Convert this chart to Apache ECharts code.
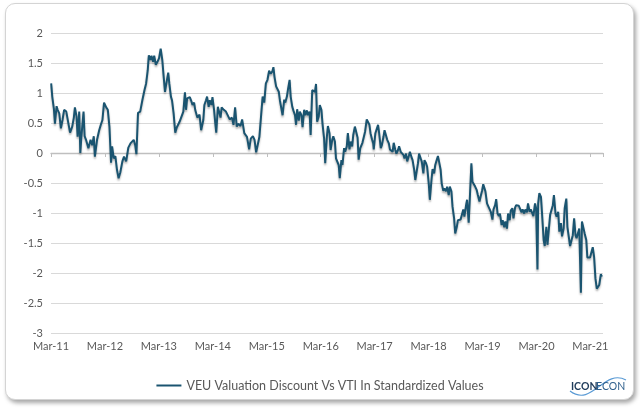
<!DOCTYPE html>
<html>
<head>
<meta charset="utf-8">
<script src="https://cdn.jsdelivr.net/npm/echarts@6/dist/echarts.min.js"></script>
<style>
html,body{margin:0;padding:0;background:#fff;}
#card{position:absolute;left:5px;top:3px;width:627px;height:395px;border:1px solid #d4d4d4;border-radius:10px;box-shadow:2px 3px 4px rgba(0,0,0,0.35);background:#fff;}
#chart{position:absolute;left:0;top:0;width:640px;height:411px;}
</style>
</head>
<body>
<div id="card"></div>
<div id="chart"></div>
<script>
// Decimal years (Mar-11 = 2011.167) and standardized values
const years = [
2011.17,2011.19,2011.22,2011.24,2011.27,2011.29,2011.32,2011.35,2011.38,2011.41,2011.45,2011.49,2011.52,2011.56,2011.59,2011.61,2011.64,2011.66,2011.69,2011.71,2011.73,2011.77,2011.79,2011.82,2011.86,2011.90,2011.93,2011.96,2011.98,
2012.02,2012.06,2012.09,2012.12,2012.15,2012.19,2012.22,2012.25,2012.28,2012.30,2012.33,2012.36,2012.39,2012.42,2012.45,2012.49,2012.52,2012.56,2012.60,2012.64,2012.67,2012.70,2012.73,2012.75,2012.78,2012.82,2012.86,2012.90,2012.93,2012.96,2012.98,
2013.01,2013.03,2013.06,2013.08,2013.11,2013.14,2013.17,2013.20,2013.23,2013.25,2013.28,2013.30,2013.34,2013.36,2013.39,2013.41,2013.44,2013.47,2013.50,2013.52,2013.55,2013.58,2013.62,2013.65,2013.67,2013.69,2013.72,2013.74,2013.77,2013.79,2013.82,2013.84,2013.88,2013.92,2013.95,2013.99,
2014.01,2014.04,2014.06,2014.09,2014.11,2014.14,2014.16,2014.19,2014.21,2014.23,2014.26,2014.28,2014.31,2014.33,2014.37,2014.41,2014.44,2014.48,2014.52,2014.55,2014.58,2014.61,2014.64,2014.68,2014.71,2014.75,2014.77,2014.80,2014.84,2014.87,2014.91,2014.94,2014.97,2014.99,
2015.03,2015.07,2015.09,2015.12,2015.15,2015.18,2015.21,2015.24,2015.27,2015.29,2015.31,2015.34,2015.36,2015.39,2015.41,2015.44,2015.46,2015.49,2015.51,2015.54,2015.56,2015.59,2015.61,2015.64,2015.66,2015.69,2015.71,2015.73,2015.76,2015.78,2015.81,2015.83,2015.86,2015.88,2015.91,2015.93,2015.96,2015.98,
2016.01,2016.03,2016.06,2016.08,2016.10,2016.13,2016.15,2016.18,2016.20,2016.23,2016.25,2016.28,2016.30,2016.33,2016.35,2016.38,2016.40,2016.43,2016.45,2016.48,2016.50,2016.52,2016.55,2016.57,2016.60,2016.62,2016.65,2016.67,2016.70,2016.72,2016.75,2016.77,2016.80,2016.82,2016.85,2016.87,2016.90,2016.92,2016.94,2016.97,2016.99,
2017.02,2017.04,2017.07,2017.09,2017.12,2017.14,2017.15,2017.18,2017.20,2017.23,2017.25,2017.28,2017.30,2017.33,2017.35,2017.38,2017.40,2017.43,2017.45,2017.48,2017.50,2017.52,2017.55,2017.57,2017.60,2017.62,2017.65,2017.67,2017.70,2017.72,2017.75,2017.77,2017.80,2017.82,2017.85,2017.87,2017.90,2017.92,2017.94,2017.97,2017.99,
2018.02,2018.04,2018.07,2018.09,2018.12,2018.14,2018.17,2018.19,2018.22,2018.24,2018.27,2018.29,2018.31,2018.34,2018.36,2018.39,2018.41,2018.44,2018.46,2018.49,2018.51,2018.54,2018.56,2018.59,2018.61,2018.64,2018.66,2018.69,2018.71,2018.73,2018.76,2018.78,2018.81,2018.83,2018.86,2018.88,2018.91,2018.93,2018.96,2018.98,
2019.01,2019.03,2019.06,2019.08,2019.11,2019.13,2019.16,2019.18,2019.20,2019.22,2019.25,2019.27,2019.30,2019.32,2019.35,2019.37,2019.40,2019.42,2019.445,2019.47,2019.49,2019.52,2019.54,2019.57,2019.59,2019.62,2019.64,2019.67,2019.69,2019.72,2019.74,2019.77,2019.79,2019.815,2019.84,2019.865,2019.89,2019.91,2019.94,2019.96,2019.99,
2020.01,2020.04,2020.06,2020.09,2020.11,2020.14,2020.16,2020.185,2020.198,2020.22,2020.25,2020.27,2020.30,2020.32,2020.35,2020.37,2020.40,2020.42,2020.445,2020.47,2020.49,2020.52,2020.54,2020.57,2020.59,2020.62,2020.64,2020.67,2020.69,2020.72,2020.74,2020.77,2020.79,2020.815,2020.84,2020.865,2020.89,2020.91,2020.94,2020.96,2020.99,
2021.01,2021.04,2021.06,2021.09,2021.11,2021.14,2021.16,2021.185,2021.21,2021.235,2021.26,2021.285,2021.31,2021.33,2021.36,2021.38
];
const values = [
1.16,0.94,0.74,0.49,0.78,0.72,0.66,0.41,0.55,0.72,0.69,0.49,0.34,0.44,0.59,0.76,0.61,0.27,0.69,0.00,0.27,0.69,0.28,0.21,0.08,0.22,0.13,0.28,-0.06,
0.22,0.38,0.47,0.55,0.84,0.76,0.72,0.44,-0.16,0.11,-0.09,-0.05,-0.28,-0.42,-0.33,-0.14,-0.06,-0.14,0.09,0.16,0.13,0.22,0.12,-0.02,0.67,0.69,0.88,1.05,1.16,1.38,1.63,
1.55,1.62,1.52,1.62,1.47,1.52,1.58,1.74,1.55,1.33,1.02,1.13,1.34,1.16,0.94,0.88,0.66,0.34,0.43,0.41,0.52,0.55,0.69,1.01,0.72,0.91,0.88,0.93,0.86,0.80,0.84,0.72,0.59,0.64,0.38,0.55,
0.80,0.88,0.94,0.77,0.88,0.80,0.93,0.72,0.52,0.34,0.77,0.80,0.59,0.76,0.72,0.69,0.72,0.56,0.59,0.47,0.76,0.44,0.49,0.45,0.56,0.33,0.36,0.27,0.06,0.24,0.28,0.22,0.01,-0.02,
0.27,0.72,0.94,0.84,1.16,1.22,1.37,1.32,1.36,1.43,1.27,1.11,1.09,1.02,0.88,0.91,0.63,0.89,0.84,0.94,1.06,1.22,0.94,0.77,0.71,0.63,0.47,0.73,0.54,0.69,0.63,0.43,0.72,0.63,0.71,0.63,0.69,0.30,
1.05,1.04,1.02,1.15,0.52,0.61,0.80,0.72,0.49,0.24,-0.17,0.26,0.45,0.33,0.05,0.22,0.28,0.19,-0.09,-0.12,-0.20,-0.42,-0.12,-0.20,0.08,0.02,0.11,0.33,0.06,0.19,0.11,0.30,0.44,0.43,0.26,-0.11,0.08,0.11,0.17,0.15,0.36,
0.56,0.55,0.47,0.33,0.22,0.16,0.06,0.33,0.33,0.47,0.33,0.08,0.13,0.27,0.38,0.41,0.22,0.16,0.06,0.05,0.02,0.17,0.05,-0.01,0.05,0.11,0.02,0.05,-0.03,-0.09,-0.01,-0.14,-0.05,0.02,-0.07,-0.12,-0.28,-0.45,-0.42,-0.17,-0.01,
-0.09,-0.14,-0.34,-0.12,-0.17,-0.23,-0.51,-0.78,-0.45,-0.27,-0.34,-0.20,-0.14,-0.05,-0.14,-0.28,-0.51,-0.63,-0.59,-0.64,-0.56,-0.70,-0.56,-0.64,-0.89,-1.09,-1.34,-1.23,-1.12,-1.11,-1.11,-1.09,-0.94,-1.06,-0.88,-0.78,-1.16,-0.78,-0.17,-0.48,
-0.48,-0.56,-0.62,-0.70,-0.81,-0.73,-0.62,-0.52,-0.53,-0.64,-0.84,-0.88,-0.94,-0.98,-1.11,-0.94,-0.87,-0.77,-1.01,-1.05,-1.01,-1.20,-1.12,-1.24,-1.14,-1.26,-1.01,-1.12,-0.96,-0.92,-1.09,-0.91,-0.87,-0.85,-0.88,-0.91,-0.99,-0.94,-1.01,-0.94,-0.99,
-0.84,-0.98,-0.94,-0.96,-1.05,-0.84,-0.92,-1.94,-0.84,-0.67,-0.73,-1.01,-1.45,-1.55,-1.23,-1.53,-1.55,-1.03,-0.95,-0.87,-0.70,-1.01,-1.06,-0.98,-1.31,-1.17,-1.39,-1.26,-0.92,-0.76,-1.23,-1.26,-1.55,-1.46,-1.37,-1.09,-1.37,-1.42,-1.39,-1.26,-2.33,
-1.14,-1.11,-1.34,-1.45,-1.74,-1.74,-1.74,-1.76,-1.57,-1.73,-2.09,-2.26,-2.26,-2.20,-2.02,-2.06
];
const yTicks = [-3,-2.5,-2,-1.5,-1,-0.5,0,0.5,1,1.5,2];
const xTickLabels = ['Mar-11','Mar-12','Mar-13','Mar-14','Mar-15','Mar-16','Mar-17','Mar-18','Mar-19','Mar-20','Mar-21'];
const seriesName = 'VEU Valuation Discount Vs VTI In Standardized Values';

const BASE = 2011 + 2/12;
const data = years.map((y, i) => [(y - BASE) * 12, values[i]]);
const FONT = 'Lato';
const chart = echarts.init(document.getElementById('chart'), null, {renderer: 'canvas'});
const xMax = (2021.40 - BASE) * 12;
chart.setOption({
  backgroundColor: 'transparent',
  animation: false,
  grid: {left: 51, right: 37, top: 33, bottom: 78},
  xAxis: [{
    type: 'value', min: 0, max: xMax, interval: 12,
    axisLine: {show: false, onZero: false}, axisTick: {show: false}, splitLine: {show: false},
    axisLabel: {
      color: '#595959', fontSize: 11, fontFamily: FONT, margin: 8, showMaxLabel: false,
      formatter: v => { const k = Math.round(v / 12); return Math.abs(v - k * 12) < 1e-6 && xTickLabels[k] ? xTickLabels[k] : ''; }
    }
  }, {
    type: 'value', min: 0, max: xMax, interval: 12, position: 'bottom',
    axisLine: {show: true, onZero: true, lineStyle: {color: '#bfbfbf', width: 1.3}},
    axisTick: {show: true, length: 4, lineStyle: {color: '#bfbfbf'}},
    axisLabel: {show: false}, splitLine: {show: false}
  }],
  yAxis: {
    type: 'value', min: yTicks[0], max: yTicks[yTicks.length - 1], interval: 0.5,
    axisLine: {show: false}, axisTick: {show: false},
    axisLabel: {color: '#595959', fontSize: 11, fontFamily: FONT, margin: 8, formatter: v => String(v)},
    splitLine: {lineStyle: {color: '#d9d9d9', width: 1}}
  },
  legend: {
    left: 'center', top: 374, icon: 'rect', itemWidth: 25, itemHeight: 2,
    textStyle: {color: '#595959', fontSize: 12.5, fontFamily: FONT},
    data: [seriesName]
  },
  series: [{
    name: seriesName, type: 'line', xAxisIndex: 0, data: data, symbol: 'none',
    lineStyle: {color: '#1a5470', width: 2, shadowColor: 'rgba(0,0,0,0.3)', shadowBlur: 2, shadowOffsetY: 2},
    itemStyle: {color: '#1a5470'}
  }],
  graphic: [
    {type: 'bezierCurve', shape: {x1: 570, y1: 391, x2: 626, y2: 380, cpx1: 592, cpy1: 408, cpx2: 604, cpy2: 368},
     style: {stroke: '#5b9bd5', lineWidth: 1.2, fill: null}},
    {type: 'text', left: 571, top: 381, style: {text: 'ICON', fill: '#1f3b5a', font: 'bold 10.5px Lato'}},
    {type: 'text', left: 596, top: 381, style: {text: 'ECON', fill: '#2f5f8c', font: '10.5px Lato'}}
  ]
});
</script>
</body>
</html>
